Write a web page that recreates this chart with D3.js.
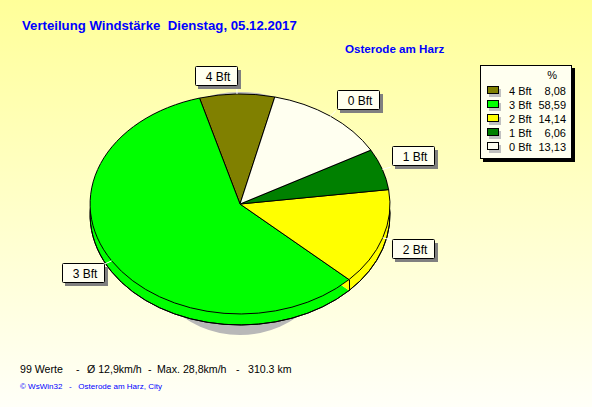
<!DOCTYPE html>
<html><head><meta charset="utf-8">
<script src="https://cdn.jsdelivr.net/npm/d3@7/dist/d3.min.js"></script>
<style>html,body{margin:0;padding:0;overflow:hidden}svg{display:block}text{font-family:"Liberation Sans",Arial,sans-serif}</style>
</head><body><svg id="c" width="592" height="407"></svg>
<script>
const categories = ["4 Bft","3 Bft","2 Bft","1 Bft","0 Bft"];
const percents = [8.08,58.59,14.14,6.06,13.13];
const percentLabels = ["8,08","58,59","14,14","6,06","13,13"];
const colors = ["#808000","#00ff00","#ffff00","#008000","#fffff0"];
const titleText = "Verteilung Windstärke  Dienstag, 05.12.2017";
const subtitleText = "Osterode am Harz";
const statsText = ["99 Werte","-","Ø 12,9km/h","-","Max. 28,8km/h","-","310.3 km"];
const creditText = "© WsWin32   -   Osterode am Harz, City";

const svg = d3.select("#c");
const W=592,H=407;
const defs = svg.append("defs");
const g = defs.append("linearGradient").attr("id","bg").attr("x1",0).attr("x2",0).attr("y1",0).attr("y2",1);
g.append("stop").attr("offset","0%").attr("stop-color","#ffff99");
g.append("stop").attr("offset","100%").attr("stop-color","#fffff8");
svg.append("rect").attr("width",W).attr("height",H).attr("fill","url(#bg)");

svg.append("text").attr("x",22).attr("y",30).attr("fill","#0000ff").attr("font-weight","bold").attr("font-size",13.2).style("white-space","pre").text(titleText);
svg.append("text").attr("x",345).attr("y",53).attr("fill","#0000ff").attr("font-weight","bold").attr("font-size",11.6).text(subtitleText);

const cx=240,cy=204,rx=150,ry=110,depth=11;
const startDeg=13.4;
const toRad=Math.PI/180;
const pie = d3.pie().sort(null).value(d=>d).startAngle(startDeg*toRad).endAngle(startDeg*toRad-2*Math.PI);
const arcs = pie(percents);
const arc = d3.arc().innerRadius(0).outerRadius(1);
const rim = d3.arc().innerRadius(1).outerRadius(1);
const tf=(x,y)=>`translate(${x},${y}) scale(${rx},${ry})`;

// shadow
svg.append("ellipse").attr("cx",cx).attr("cy",225).attr("rx",104).attr("ry",110).attr("fill","#b8b8b8");
svg.append("ellipse").attr("cx",cx).attr("cy",cy).attr("rx",120).attr("ry",112).attr("fill","#b8b8b8");

// side wall: fill, rim, and vertical edges where a slice boundary faces the viewer
const side = svg.append("g").attr("transform",tf(cx,cy+depth));
side.selectAll("path.fill").data(arcs).join("path").attr("class","fill").attr("d",arc).attr("fill",(d,i)=>colors[i]);
side.selectAll("path.rim").data(arcs).join("path").attr("class","rim").attr("d",rim).attr("fill","none").attr("stroke","#000").attr("vector-effect","non-scaling-stroke").attr("shape-rendering","crispEdges");
svg.selectAll("line.edge").data(arcs.filter(d=>Math.cos(d.startAngle)<0)).join("line").attr("class","edge")
  .attr("x1",d=>cx+rx*Math.sin(d.startAngle)).attr("x2",d=>cx+rx*Math.sin(d.startAngle))
  .attr("y1",d=>cy-ry*Math.cos(d.startAngle)).attr("y2",d=>cy+depth-ry*Math.cos(d.startAngle))
  .attr("stroke","#000").attr("shape-rendering","crispEdges");
// top face
const face = svg.append("g").attr("transform",tf(cx,cy));
face.selectAll("path").data(arcs).join("path").attr("d",arc).attr("fill",(d,i)=>colors[i]).attr("stroke","#000").attr("vector-effect","non-scaling-stroke").attr("shape-rendering","crispEdges");

// labels
arcs.forEach((d,i)=>{
  const a=(d.startAngle+d.endAngle)/2, sx=Math.sin(a), sy=-Math.cos(a);
  const ax=cx+rx*sx*1.06, ay=cy+ry*sy*1.06;
  svg.append("line").attr("x1",cx+rx*sx).attr("y1",cy+ry*sy).attr("x2",ax).attr("y2",ay).attr("stroke","#fff");
  const bw=42,bh=19;
  const bx = sx>=0 ? ax+1 : ax-bw;
  const by = (sy>=0 ? ay+1 : ay-bh)-2;
  svg.append("rect").attr("x",Math.round(bx)+3).attr("y",Math.round(by)+4).attr("width",bw+1).attr("height",bh).attr("fill","#808080");
  svg.append("rect").attr("x",Math.round(bx)+.5).attr("y",Math.round(by)+.5).attr("width",bw).attr("height",bh).attr("rx",1).attr("fill","#fffff0").attr("stroke","#000");
  svg.append("text").attr("x",Math.round(bx)+bw/2+2).attr("y",Math.round(by)+14.5).attr("text-anchor","middle").attr("font-size",12).attr("fill","#000").text(categories[i]);
});

// legend
const lx=480,ly=65,lw=91,lh=93;
svg.append("rect").attr("x",lx+3).attr("y",ly+3).attr("width",lw+1).attr("height",lh+1).attr("fill","#000");
svg.append("rect").attr("x",lx+.5).attr("y",ly+.5).attr("width",lw).attr("height",lh).attr("fill","#fffff0").attr("stroke","#000");
svg.append("text").attr("x",557).attr("y",79).attr("text-anchor","end").attr("font-size",11).text("%");
const rowY = d3.scalePoint().domain(categories).range([91,147]);
categories.forEach((c,i)=>{
  const y=rowY(c);
  svg.append("rect").attr("x",489).attr("y",y-2).attr("width",12).attr("height",8).attr("fill","#c0c0c0");
  svg.append("rect").attr("x",487.5).attr("y",y-4.5).attr("width",11).attr("height",7).attr("fill",colors[i]).attr("stroke","#000");
  svg.append("text").attr("x",509).attr("y",y+4).attr("font-size",11).text(c);
  svg.append("text").attr("x",566).attr("y",y+4).attr("text-anchor","end").attr("font-size",11).text(percentLabels[i]);
});

// footer
const statsX=[20,76,87,148,157,236,248];
statsText.forEach((t,i)=>svg.append("text").attr("x",statsX[i]).attr("y",373).attr("font-size",10.6).attr("fill","#000").text(t));
svg.append("text").attr("x",20).attr("y",389).attr("font-size",8).attr("fill","#0000ff").style("white-space","pre").text(creditText);
</script></body></html>
